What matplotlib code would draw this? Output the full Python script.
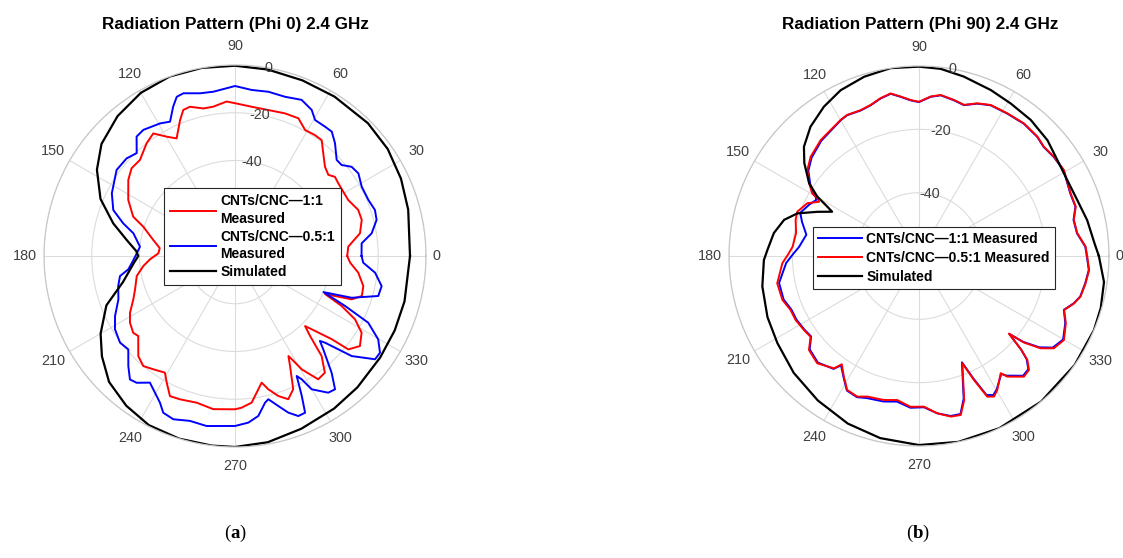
import numpy as np
import matplotlib.pyplot as plt

plt.rcParams['font.family'] = ['Liberation Sans', 'DejaVu Sans']
plt.rcParams['mathtext.fontset'] = 'custom'
plt.rcParams['mathtext.bf'] = 'Liberation Serif:bold'
plt.rcParams['mathtext.rm'] = 'Liberation Serif'

# ---- (a) Phi 0 ----
phi0_sim_ang = [0, 15, 25, 35, 45, 58, 69, 80, 90, 100, 110, 120, 130, 140, 148, 157, 165, 172, 177, 180,
                184, 193, 201, 210, 217, 225, 234, 243, 253, 263, 270, 280, 291, 303, 313, 325, 335, 345, 360]
phi0_sim_db = [-6.7, -4.9, -3.3, -1.9, -1.3, -1.3, -1.2, -0.7, -0.3, 0, 0, -1.1, -3.5, -7.0, -11.8, -18.8, -27.2, -34.5, -38.5, -39.5,
               -37.5, -31.9, -22.3, -15.0, -10.2, -5.4, -2.5, -0.5, 0, 0, 0, -0.8, -2.5, -3.8, -4.8, -5.8, -6.2, -6.5, -6.7]

phi0_red_ang = [0, 4.7, 10.3, 15.9, 20.5, 26.3, 35.1, 38.4, 41.0, 44.8, 49.3, 53.2, 56.5, 60.9, 65.3, 70.7, 77.2, 83.6, 90,
                93.1, 98.3, 102.1, 106.8, 109.5, 112.0, 116.4, 119.8, 123.7, 128.1, 134.7, 139.7, 144.5, 152.3, 158.9, 162.3,
                168.9, 174, 178, 182.2, 186.2, 191.5, 198.4, 203.1, 208.4, 212.4, 217.0, 219.6, 226.0, 230.2, 234.2, 239.0,
                241.7, 245.1, 249.0, 255.4, 261.9, 270, 272.5, 276.5, 279.9, 281.9, 284, 287.2, 290.4, 293.6, 296.6, 298.1,
                298.8, 300.5, 304.0, 307.6, 310.9, 313.2, 315, 316.3, 319.3, 320.5, 324.2, 328.8, 332.2, 334.9, 337.1, 338.2,
                339.6, 342.5, 346.8, 352.3, 356.7, 360]
phi0_red_db = [-33.0, -32.4, -26.8, -24.8, -24.9, -27.1, -27.1, -26.6, -28.2, -26.9, -23.3, -19.4, -19.3, -19.6, -16.5, -16.7, -17.3, -17.1, -16.0,
               -15.2, -16.8, -16.8, -14.7, -15.1, -18.6, -25.0, -22.4, -18.3, -20.0, -23.4, -23.2, -25.1, -29.5, -34.3, -39.7,
               -45.1, -48.3, -47.9, -44.4, -41.4, -38.0, -35.9, -33.7, -30.0, -27.9, -26.6, -27.4, -21.7, -20.0, -21.5, -23.0,
               -19.7, -15.3, -15.7, -16.5, -15.2, -15.8, -16.4, -18.2, -23.3, -25.8, -22.5, -18.6, -16.0, -19.1, -28.5, -32.5,
               -30.7, -24.9, -17.7, -18.3, -24.6, -34.1, -38.5, -35.6, -26.6, -18.5, -15.5, -18.0, -23.2, -30.7, -39.0, -34.9,
               -27.9, -24.3, -24.8, -27.9, -31.7, -33.0]

phi0_blue_ang = [0, 5.7, 9.4, 14.3, 18.2, 22.8, 28.7, 33.8, 37.4, 40.5, 43.4, 48.4, 52.1, 55.2, 59.5, 62.3, 66.9, 72.6, 78.5, 84.3,
                 90, 97.5, 102.1, 107.6, 110.1, 112.5, 115.8, 119.5, 126.0, 129.5, 133.7, 138.0, 144.0, 153.0, 159.3, 163.7,
                 167.4, 174.4, 178, 182.3, 187.1, 189.9, 194.4, 200.4, 206.6, 211.4, 217, 221.2, 225.9, 229.6, 232.2, 236.1,
                 242.9, 245.4, 249.3, 254.7, 260.5, 270, 274.6, 278.3, 281.6, 283.1, 286.1, 288.8, 291.6, 294.1, 295.5, 296.6,
                 297.2, 298.4, 299.9, 304.3, 306.9, 309.6, 313.4, 315, 316.1, 319.4, 323.6, 326.3, 329.8, 333.4, 335.6, 337.8,
                 340.3, 344.4, 348.4, 353.2, 357, 360]
phi0_blue_db = [-27.0, -26.7, -22.0, -18.8, -18.3, -19.4, -19.5, -17.8, -18.5, -21.3, -21.4, -16.9, -14.0, -14.0, -13.9, -10.9, -8.9, -10.1, -9.8, -10.1,
                -8.8, -10.6, -10.3, -8.5, -9.0, -12.3, -17.5, -16.2, -14.7, -15.2, -20.4, -18.9, -18.7, -22.1, -25.5, -31.2,
                -36.4, -40.0, -39.0, -37.4, -35.0, -31.1, -29.5, -27.9, -23.8, -21.1, -19.7, -20.6, -15.8, -12.1, -12.8, -16.1,
                -11.0, -7.8, -6.9, -8.4, -7.8, -8.8, -10.0, -12.3, -17.3, -18.4, -14.6, -10.7, -7.9, -8.1, -15.0, -20.7,
                -23.5, -21.3, -15.6, -10.7, -10.2, -16.5, -26.2, -29.7, -27.6, -15.6, -7.1, -7.0, -10.6, -17.6, -29.4, -40.0,
                -28.1, -17.7, -17.3, -20.9, -26.2, -27.0]

# ---- (b) Phi 90 ----
phi90_sim_ang = [0, 4, 12, 19.5, 27, 35, 42, 50.6, 59, 66.6, 76, 83.4, 90, 98.6, 107, 115.3, 122.5, 130, 136.5, 141,
                 146.5, 149.7, 151.7, 153, 156.5, 160.7, 165, 171, 177.7, 181.5, 191, 202, 211.6, 223, 235, 247, 258, 270,
                 282, 295, 310, 325, 337, 344, 352, 360]
phi90_sim_db = [-3.2, -4.4, -5.7, -7.0, -7.4, -6.8, -5.4, -4.4, -3.8, -2.9, -1.6, -0.5, -0.2, 0, -0.8, -2.1, -4.1, -6.7, -9.9, -13.4,
                -18.4, -22.8, -27.1, -29.2, -25.0, -19.3, -15.9, -13.6, -12.1, -11.0, -9.6, -8.4, -7.5, -5.9, -4.3, -2.5, -1.2, -0.3,
                0, 0, 0, 0, 0, -0.3, -1.0, -3.2]

phi90_meas_ang = [0, 3.2, 8.2, 13.1, 17.5, 22.5, 30.7, 36.3, 41.2, 45.2, 51.6, 58.3, 64.6, 69.1, 73.4, 77.4, 82.3, 85.8, 90,
                  93, 96.6, 99.9, 103.7, 107.7, 111.8, 117, 119.9, 125, 130.3, 137.5, 142.4, 146.5, 149.6, 150.4, 151.5, 154.7,
                  160, 163.7, 169.3, 175.7, 179, 183, 190.9, 197.8, 202.8, 207.4, 212.8, 216.7, 220.5, 226.5, 232.9, 234.5,
                  238.1, 241.8, 246.3, 249.8, 256.3, 261.4, 266.8, 271.9, 276.6, 281.2, 284.7, 287.4, 292, 293.9, 295.9, 298.1,
                  300.3, 304.9, 306.2, 311, 314, 316.2, 317.5, 319.2, 320.5, 322.8, 325.6, 329.9, 335.4, 339.6, 343, 345.9,
                  350.7, 355.3, 360]
phi90_red_db = [-6.9, -7.3, -9.5, -9.8, -8.1, -8.2, -6.8, -7.1, -7.6, -6.9, -6.6, -7.0, -7.2, -8.4, -10.2, -9.5, -8.7, -9.5, -11.3,
                -10.7, -9.3, -7.9, -8.7, -9.9, -10.4, -10.0, -10.4, -11.4, -12.0, -13.6, -15.5, -18.4, -20.9, -23.1, -24.1, -21.0,
                -19.1, -19.4, -20.5, -20.0, -18.8, -16.8, -14.4, -14.7, -16.0, -16.1, -16.8, -17.3, -14.3, -13.3, -15.5, -18.0,
                -15.1, -12.0, -11.5, -12.7, -13.2, -14.0, -12.3, -12.4, -10.0, -8.3, -8.1, -12.3, -23.5, -17.2, -10.6, -9.7,
                -11.0, -14.9, -12.8, -9.5, -10.0, -12.6, -16.3, -22.5, -17.0, -11.8, -8.4, -7.1, -9.0, -11.1, -8.8, -7.4,
                -6.7, -6.1, -6.9]
phi90_blue_db = [-7.0, -7.4, -9.6, -9.9, -8.2, -8.3, -6.9, -7.2, -7.7, -7.0, -6.7, -7.1, -7.3, -8.5, -10.3, -9.6, -8.8, -9.6, -11.4,
                 -10.8, -9.4, -8.0, -8.8, -10.0, -10.5, -10.1, -10.5, -11.6, -12.3, -14.0, -15.9, -18.8, -21.3, -22.6, -23.0, -21.8,
                 -20.1, -21.5, -23.8, -22.0, -20.3, -18.0, -15.0, -15.1, -16.3, -16.4, -17.0, -17.5, -14.6, -13.6, -15.3, -17.6,
                 -14.9, -11.8, -11.3, -12.2, -12.7, -13.5, -12.0, -12.2, -10.0, -8.5, -8.4, -12.8, -23.8, -17.8, -11.2, -10.2,
                 -11.3, -14.6, -13.2, -9.9, -10.3, -12.9, -16.2, -22.3, -17.4, -12.3, -8.8, -7.4, -9.2, -11.2, -8.9, -7.5,
                 -6.8, -6.2, -7.0]

theta_ticks = list(range(0, 360, 30))
r_labels = {'a': [-40, -20, 0], 'b': [-40, -20, 0]}
tick_color = '#404040'


def setup_polar(ax, rmin, rgrid, rlabels, radius_px):
    ax.set_ylim(rmin, 0)
    ax.set_thetagrids(theta_ticks, [''] * len(theta_ticks))
    ax.set_yticks(rgrid)
    ax.set_yticklabels([])
    ax.grid(True, color='#dcdcdc', lw=0.8)
    ax.spines['polar'].set_color('#c8c8c8')
    ax.spines['polar'].set_linewidth(0.9)
    db_per_px = -rmin / radius_px
    for t in theta_ticks:
        off = 10 if t == 0 else 19
        ax.text(np.deg2rad(t), off * db_per_px, str(t), ha='center', va='center',
                fontsize=10.4, color=tick_color, clip_on=False)
    for r in rlabels:
        ax.text(np.deg2rad(80), r, str(r), ha='center', va='center',
                fontsize=10.4, color=tick_color, zorder=3)


fig = plt.figure(figsize=(11.23, 5.58), dpi=100)

ax1 = fig.add_axes([44 / 1123, 111 / 558, 382 / 1123, 382 / 558], projection='polar')
setup_polar(ax1, -80, [-60, -40, -20, 0], r_labels['a'], 191)
ax1.plot(np.deg2rad(phi0_red_ang), phi0_red_db, color='#ff0000', lw=1.4,
         label='CNTs/CNC\u20141:1\nMeasured')
ax1.plot(np.deg2rad(phi0_blue_ang), phi0_blue_db, color='#0000ff', lw=1.4,
         label='CNTs/CNC\u20140.5:1\nMeasured')
ax1.plot(np.deg2rad(phi0_sim_ang), phi0_sim_db, color='black', lw=1.6, label='Simulated')
leg1 = ax1.legend(loc='upper left', bbox_to_anchor=(164 / 1123, 1 - 188 / 558),
                  bbox_transform=fig.transFigure, borderaxespad=0, fancybox=False,
                  framealpha=1, edgecolor='#262626', prop={'weight': 'bold', 'size': 10},
                  handlelength=3.3, handletextpad=0.3, labelspacing=0.25, borderpad=0.45)
leg1.get_frame().set_linewidth(0.8)
for t in leg1.get_texts():
    t.set_linespacing(1.35)

ax2 = fig.add_axes([729 / 1123, 112 / 558, 380 / 1123, 380 / 558], projection='polar')
setup_polar(ax2, -60, [-40, -20, 0], r_labels['b'], 190)
ax2.plot(np.deg2rad(phi90_meas_ang), phi90_blue_db, color='#0000ff', lw=1.4,
         label='CNTs/CNC\u20141:1 Measured')
ax2.plot(np.deg2rad(phi90_meas_ang), phi90_red_db, color='#ff0000', lw=1.4,
         label='CNTs/CNC\u20140.5:1 Measured')
ax2.plot(np.deg2rad(phi90_sim_ang), phi90_sim_db, color='black', lw=1.6, label='Simulated')
leg2 = ax2.legend(loc='upper left', bbox_to_anchor=(813 / 1123, 1 - 227 / 558),
                  bbox_transform=fig.transFigure, borderaxespad=0, fancybox=False,
                  framealpha=1, edgecolor='#262626', prop={'weight': 'bold', 'size': 10},
                  handlelength=3.2, handletextpad=0.3, labelspacing=0.36, borderpad=0.35)
leg2.get_frame().set_linewidth(0.8)

fig.text(235 / 1123, 1 - 25 / 558, 'Radiation Pattern (Phi 0) 2.4 GHz',
         ha='center', va='center', fontsize=12.3, fontweight='bold')
fig.text(920 / 1123, 1 - 25 / 558, 'Radiation Pattern (Phi 90) 2.4 GHz',
         ha='center', va='center', fontsize=12.3, fontweight='bold')

fig.text(235 / 1123, 1 - 533 / 558, r'($\mathbf{a}$)', family='Liberation Serif',
         ha='center', va='center', fontsize=13.5)
fig.text(918 / 1123, 1 - 533 / 558, r'($\mathbf{b}$)', family='Liberation Serif',
         ha='center', va='center', fontsize=13.5)

fig.savefig('out.png', dpi=100)
